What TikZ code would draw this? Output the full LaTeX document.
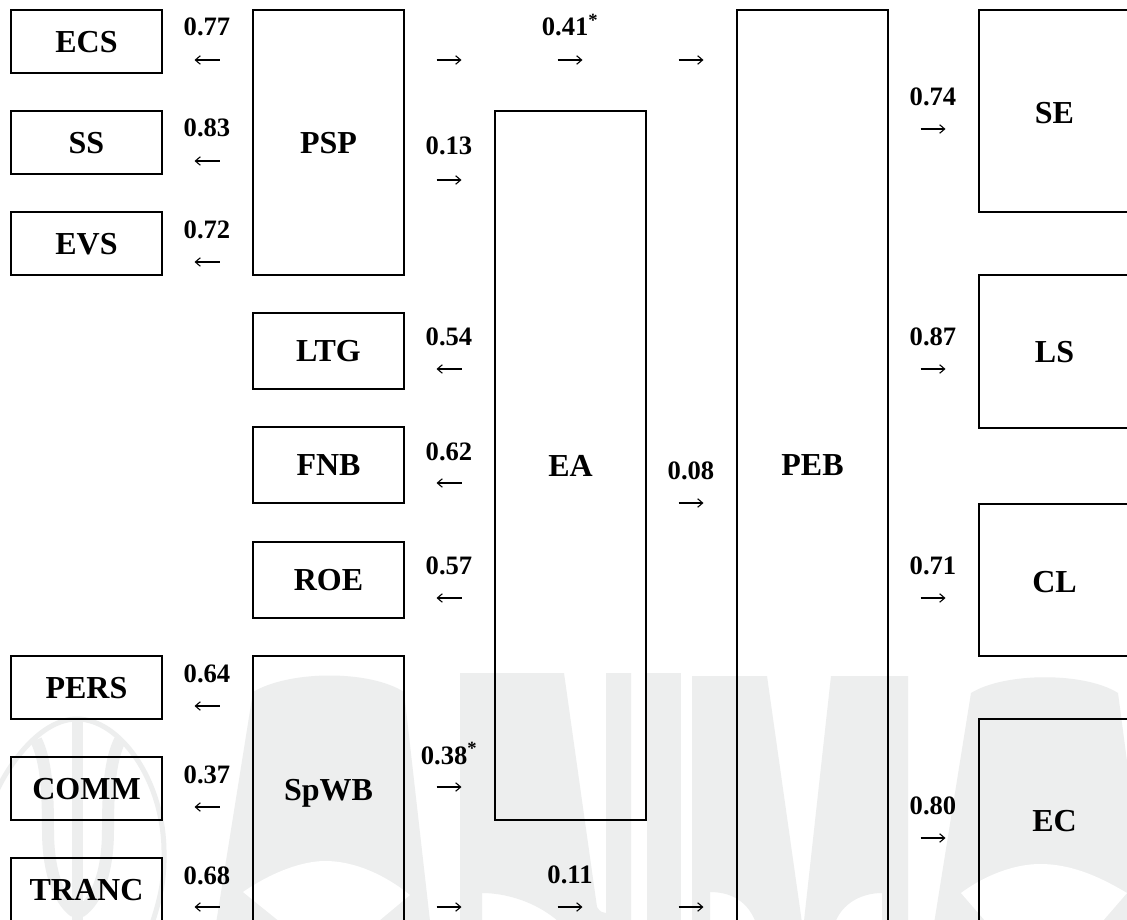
\documentclass[tikz,border=0pt]{standalone}
\usepackage{fontspec}
\usetikzlibrary{arrows.meta}
\setmainfont{Liberation Serif}
\definecolor{wm}{HTML}{EDEEEE}
\tikzset{
  boxnode/.style={draw=black,line width=2.8pt,rectangle,inner sep=0pt,outer sep=0pt,
    font=\fontsize{32}{36}\bfseries\selectfont,text height=21.6pt,text depth=0pt,align=center},
  smallbox/.style={boxnode,minimum width=151pt},
  numlabel/.style={anchor=base,inner sep=0pt,font=\fontsize{26.6}{30}\bfseries\selectfont},
  pointer/.style={draw=black,line width=1.1pt,-{Straight Barb[length=5pt,width=8.5pt,line width=1.1pt]}},
  wmfill/.style={fill=wm,draw=none},
  wmline/.style={draw=wm,line width=5pt,fill=none},
  wmhole/.style={fill=white,draw=none}
}
% one short arrow between two named free ends
\newcommand{\rightpointer}[3]{%
  \coordinate (#1s) at ({#2-12.5},#3);\coordinate (#1e) at ({#2+12.5},#3);\draw[pointer] (#1s) -- (#1e);}
\newcommand{\leftpointer}[3]{%
  \coordinate (#1s) at ({#2+12.5},#3);\coordinate (#1e) at ({#2-12.5},#3);\draw[pointer] (#1s) -- (#1e);}
\begin{document}
\begin{tikzpicture}[x=1pt,y=-1pt]
\path[use as bounding box,clip] (0,0) rectangle (1127,920);
\fill[white] (0,0) rectangle (1127,920);
% watermark: round seal
\path[wmline] (-5,795) .. controls (8,765) and (40,719) .. (77,719) .. controls (120,719) and (163,780) .. (164,850) .. controls (165,885) and (158,905) .. (150,930);
\path[wmline,line width=11pt] (77,720) -- (77,930);
\path[wmline,line width=12pt] (36,740) .. controls (46,760) and (48,790) .. (48,830) .. controls (48,870) and (58,900) .. (75,912);
\path[wmline,line width=12pt] (120,740) .. controls (110,760) and (108,790) .. (108,830) .. controls (108,870) and (98,900) .. (80,912);
% watermark: first A
\path[wmfill] (253,692) .. controls (290,670) and (370,670) .. (404,692) -- (431,930) -- (215,930) -- cycle;
\path[wmhole] (243,892) .. controls (275,870) and (305,861) .. (325,861) .. controls (355,861) and (385,875) .. (410,895) -- (368,930) -- (290,930) -- cycle;
% watermark: N
\path[wmfill] (460,673) -- (564,673) -- (597,907) .. controls (600,912) and (603,913) .. (606,913) -- (606,673) -- (631,673) -- (631,930) -- (567,930) .. controls (545,905) and (510,893) .. (482,893) -- (482,930) -- (460,930) -- cycle;
% watermark: I
\path[wmfill] (647,673) rectangle (681,930);
% watermark: M
\path[wmfill] (692,676) -- (767,676) -- (803,930) -- (758,930) .. controls (752,905) and (735,892) .. (710,892) -- (710,930) -- (692,930) -- cycle;
\path[wmfill] (831,676) -- (908,676) -- (908,930) -- (882,930) -- (882,893) .. controls (860,893) and (838,905) .. (833,930) -- (803,930) -- cycle;
% watermark: second A
\path[wmfill] (971,693) .. controls (1005,672) and (1085,672) .. (1118,693) -- (1140,860) -- (1140,930) -- (933,930) -- cycle;
\path[wmhole] (961,893) .. controls (985,875) and (1015,864) .. (1040,864) .. controls (1075,864) and (1105,880) .. (1127,893) -- (1095,930) -- (993,930) -- cycle;
% boxes
\node[smallbox,minimum height=63pt] (ECS) at (86.5,41.5) {ECS};
\node[smallbox,minimum height=63pt] (SS) at (86.5,142.5) {SS};
\node[smallbox,minimum height=63pt] (EVS) at (86.5,243.5) {EVS};
\node[smallbox,minimum height=63pt] (PERS) at (86.5,687.5) {PERS};
\node[smallbox,minimum height=63pt] (COMM) at (86.5,788.5) {COMM};
\node[smallbox,minimum height=68pt,text depth=5.6pt] (TRANC) at (86.5,892) {TRANC};
\node[smallbox,minimum height=265pt] (PSP) at (328.5,142.5) {PSP};
\node[smallbox,minimum height=76pt] (LTG) at (328.5,351) {LTG};
\node[smallbox,minimum height=76pt] (FNB) at (328.5,465) {FNB};
\node[smallbox,minimum height=76pt] (ROE) at (328.5,580) {ROE};
\node[smallbox,minimum height=270pt,text depth=3.6pt] (SpWB) at (328.5,791) {SpWB};
\node[smallbox,minimum height=709pt] (EA) at (570.5,465.5) {EA};
\node[smallbox,minimum height=914pt,text depth=4pt] (PEB) at (812.5,467) {PEB};
\node[smallbox,minimum height=202pt,text height=25pt] (SE) at (1054.5,111) {SE};
\node[smallbox,minimum height=153pt] (LS) at (1054.5,351.5) {LS};
\node[smallbox,minimum height=152pt,text height=24.6pt] (CL) at (1054.5,580) {CL};
\node[smallbox,minimum height=207pt,text depth=4.6pt] (EC) at (1054.5,822.5) {EC};
% numeric labels
\node[numlabel] (n1) at (207,36) {0.77};
\node[numlabel] (n2) at (207,137) {0.83};
\node[numlabel] (n3) at (207,238) {0.72};
\node[numlabel] (n4) at (207,682) {0.64};
\node[numlabel] (n5) at (207,783) {0.37};
\node[numlabel] (n6) at (207,884) {0.68};
\node[numlabel] (n7) at (449,345) {0.54};
\node[numlabel] (n8) at (449,460) {0.62};
\node[numlabel] (n9) at (449,574) {0.57};
\node[numlabel] (n10) at (449,155) {0.13};
\node[numlabel] (n11) at (449,764) {0.38\textsuperscript{*}};
\node[numlabel] (n12) at (570,36) {0.41\textsuperscript{*}};
\node[numlabel] (n13) at (570,883) {0.11};
\node[numlabel] (n14) at (691,479) {0.08};
\node[numlabel] (n15) at (933,106) {0.74};
\node[numlabel] (n16) at (933,345) {0.87};
\node[numlabel] (n17) at (933,574) {0.71};
\node[numlabel] (n18) at (933,814) {0.80};
% arrows
\leftpointer{a1}{207}{60}
\leftpointer{a2}{207}{161}
\leftpointer{a3}{207}{262}
\leftpointer{a4}{207}{706}
\leftpointer{a5}{207}{807}
\leftpointer{a6}{207}{907}
\leftpointer{a7}{449}{369}
\leftpointer{a8}{449}{483}
\leftpointer{a9}{449}{598}
\rightpointer{a10}{449}{60}
\rightpointer{a11}{570}{60}
\rightpointer{a12}{691}{60}
\rightpointer{a13}{449}{180}
\rightpointer{a14}{449}{787}
\rightpointer{a15}{449}{907}
\rightpointer{a16}{570}{907}
\rightpointer{a17}{691}{907}
\rightpointer{a18}{691}{503}
\rightpointer{a19}{933}{129}
\rightpointer{a20}{933}{369}
\rightpointer{a21}{933}{598}
\rightpointer{a22}{933}{838}
\end{tikzpicture}
\end{document}
